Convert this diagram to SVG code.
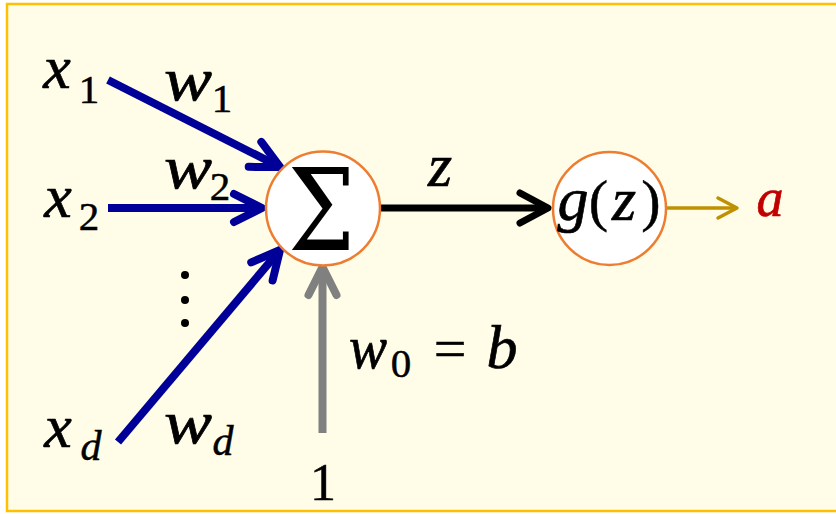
<svg xmlns="http://www.w3.org/2000/svg" width="836" height="514" viewBox="0 0 836 514">
<style>
.mi{font-family:"Liberation Serif",serif;font-style:italic;font-size:62px;fill:#000;stroke:#000;stroke-width:0.7;text-anchor:middle}
.up{font-family:"Liberation Serif",serif;font-size:58px;fill:#000;stroke:#000;stroke-width:0.5;text-anchor:middle}
.sub{font-family:"Liberation Serif",serif;font-size:41px;fill:#000;stroke:#000;stroke-width:0.5;text-anchor:middle}
.subi{font-family:"Liberation Serif",serif;font-style:italic;font-size:42px;fill:#000;stroke:#000;stroke-width:0.5;text-anchor:middle}
.node{fill:#fff;stroke:#ED7D31;stroke-width:2.5}
.c{fill:none;stroke-linecap:butt}
.blue{stroke:#000099;stroke-width:8}
.gray{stroke:#808080;stroke-width:8}
.black{stroke:#000;stroke-width:7}
.gold{stroke:#BF9000;stroke-width:3.5}
</style>
<defs>
<marker id="hb" markerUnits="userSpaceOnUse" viewBox="-40 -25 50 50" markerWidth="50" markerHeight="50" refX="0" refY="0" orient="auto">
<path d="M-28,-14 L0,0 L-28,14" fill="none" stroke="#000099" stroke-width="8" stroke-linecap="round" stroke-linejoin="round"/>
</marker>
<marker id="hg" markerUnits="userSpaceOnUse" viewBox="-40 -25 50 50" markerWidth="50" markerHeight="50" refX="0" refY="0" orient="auto">
<path d="M-28,-14 L0,0 L-28,14" fill="none" stroke="#808080" stroke-width="8" stroke-linecap="round" stroke-linejoin="round"/>
</marker>
<marker id="hk" markerUnits="userSpaceOnUse" viewBox="-40 -25 50 50" markerWidth="50" markerHeight="50" refX="0" refY="0" orient="auto">
<path d="M-28,-15 L0,0 L-28,15" fill="none" stroke="#000" stroke-width="7" stroke-linecap="round" stroke-linejoin="round"/>
</marker>
<marker id="ho" markerUnits="userSpaceOnUse" viewBox="-30 -20 40 40" markerWidth="40" markerHeight="40" refX="0" refY="0" orient="auto">
<path d="M-19,-10 L0,0 L-19,10" fill="none" stroke="#BF9000" stroke-width="3.5" stroke-linecap="round" stroke-linejoin="round"/>
</marker>
</defs>
<rect x="7" y="4" width="840" height="507" fill="#FFFDE8" stroke="#FFC000" stroke-width="2.5"/>
<g id="connectors">
<path class="c blue" d="M108,80 L280,167" marker-end="url(#hb)"/>
<path class="c blue" d="M108,208 L262,208" marker-end="url(#hb)"/>
<path class="c blue" d="M118,442 L280,250" marker-end="url(#hb)"/>
<path class="c gray" d="M322.5,433 L322.5,267" marker-end="url(#hg)"/>
<path class="c black" d="M380,208 L548,208" marker-end="url(#hk)"/>
<path class="c gold" d="M666,208 L737,208" marker-end="url(#ho)"/>
</g>
<g id="sum">
<circle class="node" cx="323" cy="208.5" r="57"/>
<text x="321.5" y="250" textLength="67" lengthAdjust="spacingAndGlyphs" style="font-family:'DejaVu Serif',serif;font-size:114px;text-anchor:middle">Σ</text>
</g>
<g id="activation">
<circle class="node" cx="609.5" cy="208.5" r="56.5"/>
<text class="mi" x="573" y="220">g</text>
<text class="up" x="598.5" y="220">(</text>
<text class="mi" x="624" y="220">z</text>
<text class="up" x="651" y="220">)</text>
</g>
<g id="x1"><text class="mi" x="57" y="88">x</text><text class="sub" x="89" y="103">1</text></g>
<g id="w1"><text class="mi" x="188" y="100" textLength="48" lengthAdjust="spacingAndGlyphs">w</text><text class="sub" x="222" y="112">1</text></g>
<g id="x2"><text class="mi" x="58" y="217">x</text><text class="sub" x="89" y="230">2</text></g>
<g id="w2"><text class="mi" x="188" y="188" textLength="48" lengthAdjust="spacingAndGlyphs">w</text><text class="sub" x="220" y="200">2</text></g>
<g id="dots" fill="#000"><circle cx="185" cy="275" r="4"/><circle cx="185" cy="300" r="4"/><circle cx="185" cy="323" r="4"/></g>
<g id="xd"><text class="mi" x="58" y="447">x</text><text class="subi" x="91" y="460">d</text></g>
<g id="wd"><text class="mi" x="188" y="443" textLength="48" lengthAdjust="spacingAndGlyphs">w</text><text class="subi" x="223" y="455">d</text></g>
<g id="bias"><text class="up" x="323" y="500" style="font-size:52px">1</text></g>
<g id="w0"><text class="mi" x="368" y="368" textLength="38" lengthAdjust="spacingAndGlyphs">w</text><text class="sub" x="401" y="377">0</text><text class="up" x="450" y="368">=</text><text class="mi" x="502" y="368">b</text></g>
<g id="zlabel"><text class="mi" x="440" y="186">z</text></g>
<g id="output"><text class="mi" x="770" y="216" style="fill:#C00000;stroke:#C00000;font-size:54px">a</text></g>
</svg>
